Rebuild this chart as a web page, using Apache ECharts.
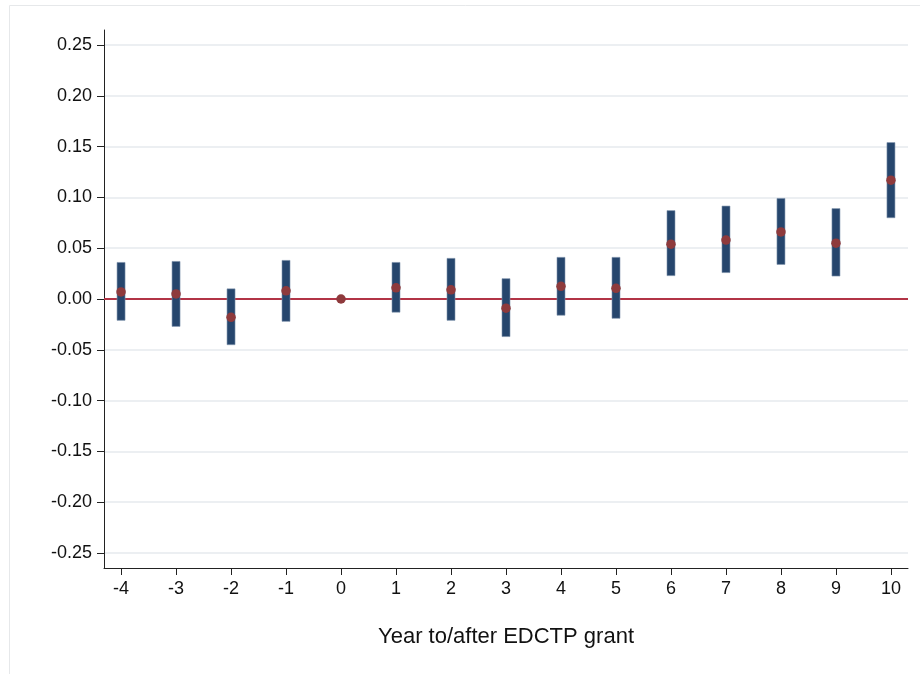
<!DOCTYPE html>
<html>
<head>
<meta charset="utf-8">
<script src="https://cdn.jsdelivr.net/npm/echarts@6/dist/echarts.min.js"></script>
<style>
html,body{margin:0;padding:0;background:#fff;}
#chart{width:920px;height:674px;}
</style>
</head>
<body>
<div id="chart"></div>
<script>
const years = [-4, -3, -2, -1, 0, 1, 2, 3, 4, 5, 6, 7, 8, 9, 10];
const estimates = [0.007, 0.005, -0.018, 0.008, 0.000, 0.011, 0.009, -0.009, 0.0125, 0.0105, 0.054, 0.058, 0.066, 0.055, 0.117];
const ciLow = [-0.021, -0.027, -0.045, -0.022, null, -0.013, -0.021, -0.037, -0.016, -0.019, 0.023, 0.026, 0.034, 0.0226, 0.080];
const ciHigh = [0.036, 0.037, 0.010, 0.038, null, 0.036, 0.040, 0.020, 0.041, 0.041, 0.087, 0.0915, 0.099, 0.089, 0.154];
const yTicks = [-0.25, -0.20, -0.15, -0.10, -0.05, 0.00, 0.05, 0.10, 0.15, 0.20, 0.25];
const xTitle = 'Year to/after EDCTP grant';

const ciData = [];
years.forEach((x, i) => { if (ciLow[i] !== null) ciData.push([x, ciLow[i], ciHigh[i]]); });
const ptData = years.map((x, i) => [x, estimates[i]]);

const chart = echarts.init(document.getElementById('chart'), null, {renderer: 'canvas'});
const font = '"Liberation Sans", Arial, Helvetica, sans-serif';
chart.setOption({
  animation: false,
  backgroundColor: '#ffffff',
  graphic: [{
    type: 'rect', z: -10, silent: true,
    shape: {x: 9.5, y: 5.5, width: 930, height: 700},
    style: {fill: 'none', stroke: '#e6e8ea', lineWidth: 1}
  }],
  grid: {left: 104, right: 12, top: 30, bottom: 106, containLabel: false},
  xAxis: {
    type: 'value', min: -4.31, max: 10.31,
    name: xTitle, nameLocation: 'middle', nameGap: 58,
    nameTextStyle: {fontFamily: font, fontSize: 22, color: '#111'},
    axisLine: {show: true, onZero: false, lineStyle: {color: '#222', width: 1}},
    axisTick: {show: true, inside: false, length: 7, customValues: years, lineStyle: {color: '#222', width: 1}},
    axisLabel: {customValues: years, margin: 12, fontFamily: font, fontSize: 18, color: '#111',
      formatter: v => String(v)},
    splitLine: {show: false}
  },
  yAxis: {
    type: 'value', min: -0.2648, max: 0.2648,
    axisLine: {show: true, onZero: false, lineStyle: {color: '#222', width: 1}},
    axisTick: {show: true, inside: false, length: 7, customValues: yTicks, lineStyle: {color: '#222', width: 1}},
    axisLabel: {customValues: yTicks, margin: 12, fontFamily: font, fontSize: 18, color: '#111',
      formatter: v => v.toFixed(2)},
    splitLine: {show: true, lineStyle: {color: '#eceff2', width: 2}}
  },
  series: [
    {
      type: 'custom',
      data: ciData,
      z: 3,
      renderItem: function (params, api) {
        const x = api.value(0);
        const lo = api.coord([x, api.value(1)]);
        const hi = api.coord([x, api.value(2)]);
        const w = 8;
        return {
          type: 'rect',
          shape: {x: lo[0] - w / 2, y: hi[1], width: w, height: lo[1] - hi[1]},
          style: {fill: '#26466d', stroke: '#7f93ad', lineWidth: 0.6}
        };
      },
      markLine: {
        silent: true, symbol: 'none', z: 2,
        label: {show: false},
        lineStyle: {color: '#b23446', width: 2, type: 'solid'},
        data: [{yAxis: 0}]
      }
    },
    {
      type: 'scatter',
      data: ptData,
      z: 5,
      symbol: 'circle',
      symbolSize: 9.5,
      itemStyle: {color: '#8e3a3c', opacity: 1}
    }
  ]
});
</script>
</body>
</html>
